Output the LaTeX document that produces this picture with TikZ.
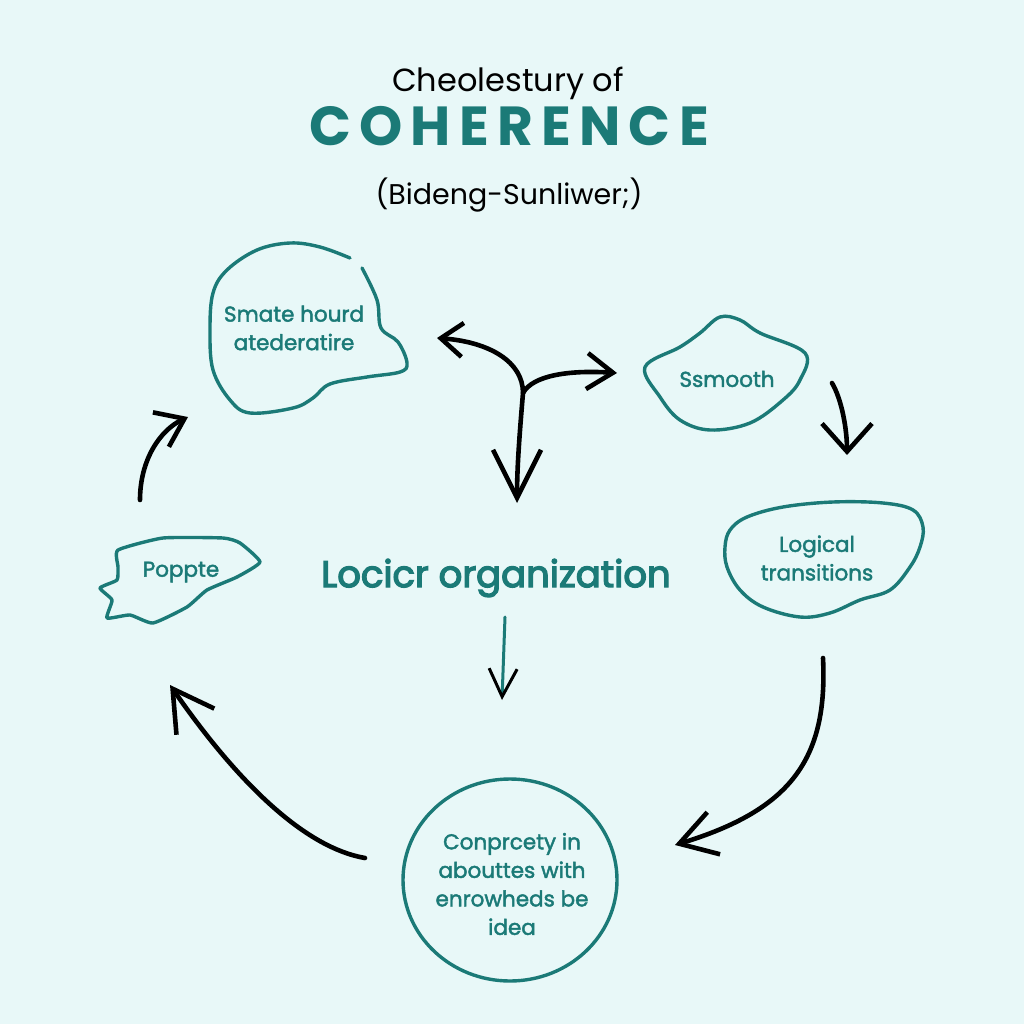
\documentclass[tikz,border=0pt]{standalone}
\usepackage{fontspec}
\setmainfont{Poppins}
\newfontfamily\headFont[LetterSpace=15]{Poppins}
\newfontfamily\labelFont[FakeBold=2]{Poppins}
\newfontfamily\centerFont[FakeBold=3.5]{Poppins}
\usetikzlibrary{arrows.meta}

\definecolor{bgCyan}{HTML}{E8F8F8}
\definecolor{tealInk}{HTML}{1B7A77}

\tikzset{
    blobLine/.style={draw=tealInk, line width=3.4pt, line join=round, line cap=round},
    blobText/.style={text=tealInk, font=\labelFont\fontsize{21.5}{28.5}\selectfont, align=center},
    sketchArrow/.style={draw=black, line width=4.6pt, line cap=round},
}

\begin{document}
\begin{tikzpicture}[x=1pt, y=-1pt]
    % Background and size
    \fill[bgCyan] (0,0) rectangle (1024,1024);
    \useasboundingbox (0,0) rectangle (1024,1024);

    % Define the positions of the arrow ends
    \coordinate (forkLeft) at (437,338);
    \coordinate (forkJoin) at (523,393);
    \coordinate (forkDown) at (517,503);
    \coordinate (forkRight) at (617,373);
    \coordinate (smoothOut) at (832,383);
    \coordinate (smoothIn) at (847,455);
    \coordinate (logicalOut) at (823,658);
    \coordinate (circleIn) at (675,845);
    \coordinate (circleOut) at (365,858);
    \coordinate (poppteIn) at (170,685);
    \coordinate (poppteOut) at (140,500);
    \coordinate (smateIn) at (188,417);
    \coordinate (centerOut) at (505,617);
    \coordinate (centerIn) at (502,700);

    % Draw the titles
    \node (titleTop) at (508,83) {\fontsize{32}{34}\selectfont Cheolestury of};
    \node[text=tealInk] (titleMain) at (509,126) {\headFont\bfseries\fontsize{55}{56}\selectfont COHERENCE};
    \node (titleSub) at (509,195) {\fontsize{28.5}{30}\selectfont (Bideng-Sunliwer;)};

    % Draw the blobs
    \draw[blobLine] plot[smooth, tension=0.6] coordinates {(362,268) (377,300) (381,328) (398,342) (407,363) (400,372) (367,377) (330,384) (313,398) (293,408) (250,413) (230,400) (213,370) (210,330) (213,293) (227,270) (257,250) (290,243) (320,247) (350,258)};
    \draw[blobLine] plot[smooth cycle, tension=0.6] coordinates {(645,367) (680,347) (700,333) (720,317) (740,320) (760,333) (805,353) (800,380) (783,400) (750,423) (710,430) (680,420) (660,397)};
    \draw[blobLine] plot[smooth cycle, tension=0.6] coordinates {(730,530) (747,517) (783,507) (833,502) (883,503) (913,510) (923,527) (920,547) (910,567) (890,590) (860,600) (830,613) (800,617) (763,607) (740,590) (727,567) (725,547)};
    \draw[blobLine] plot[smooth cycle, tension=0.3] coordinates {(118,550) (163,538) (223,538) (240,543) (260,562) (237,577) (207,590) (187,607) (153,623) (130,615) (107,618) (112,600) (100,588) (117,580) (118,567)};
    \draw[blobLine] (510,880) ellipse [x radius=107, y radius=101];

    % Draw the labels
    \node[blobText] (smateText) at (294,328) {Smate hourd\\atederatire};
    \node[blobText] (smoothText) at (727,379) {Ssmooth};
    \node[blobText] (logicalText) at (817,558) {Logical\\transitions};
    \node[blobText] (poppteText) at (181,572) {Poppte};
    \node[blobText] (circleText) at (512,884) {Conprcety in\\abouttes with\\enrowheds be\\idea};
    \node[text=tealInk, font=\centerFont\fontsize{37}{40}\selectfont] (centerText) at (496,578) {Locicr organization};

    % Draw the arrows
    \draw[sketchArrow, {Straight Barb[length=22pt, width=34pt]}-{Straight Barb[length=48pt, width=48pt]}]
        (forkLeft) .. controls (490,342) and (523,362) .. (forkJoin) .. controls (519,440) and (517,470) .. (forkDown);
    \draw[sketchArrow, -{Straight Barb[length=26pt, width=36pt]}] (forkJoin) .. controls (533,375) and (570,370) .. (forkRight);
    \draw[sketchArrow, -{Straight Barb[length=28pt, width=50pt]}] (smoothOut) .. controls (842,400) and (847,430) .. (smoothIn);
    \draw[sketchArrow, -{Straight Barb[length=36pt, width=44pt]}] (logicalOut) .. controls (828,760) and (790,810) .. (circleIn);
    \draw[sketchArrow, -{Straight Barb[length=40pt, width=46pt]}] (circleOut) .. controls (290,845) and (215,750) .. (poppteIn);
    \draw[sketchArrow, -{Straight Barb[length=26pt, width=38pt]}] (poppteOut) .. controls (140,460) and (160,430) .. (smateIn);
    \draw[sketchArrow, draw=tealInk, line width=3pt, -{Straight Barb[length=28pt, width=28pt, color=black]}] (centerOut) -- (centerIn);
\end{tikzpicture}
\end{document}
